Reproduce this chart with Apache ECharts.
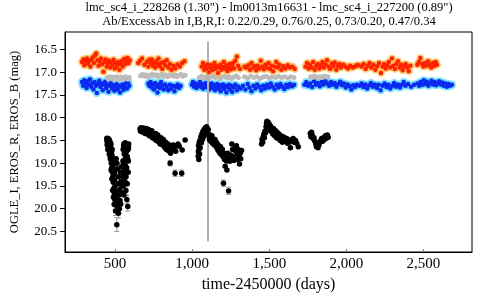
<!DOCTYPE html>
<html><head><meta charset="utf-8">
<script src="https://cdn.jsdelivr.net/npm/echarts@6/dist/echarts.min.js"></script>
<style>html,body{margin:0;padding:0;background:#fff}#c{width:480px;height:300px}</style>
</head><body><div id="c"></div>
<script>
const titleLines = ['lmc_sc4_i_228268 (1.30") - lm0013m16631 - lmc_sc4_i_227200 (0.89")', 'Ab/ExcessAb in I,B,R,I: 0.22/0.29, 0.76/0.25, 0.73/0.20, 0.47/0.34'];
const xName = 'time-2450000 (days)';
const yName = 'OGLE_I, EROS_R, EROS_B (mag)';
const xTicks = [500, 1000, 1500, 2000, 2500];
const yTicks = [16.5, 17.0, 17.5, 18.0, 18.5, 19.0, 19.5, 20.0, 20.5];
const markerTime = 1101;

const redPts = [
[285,16.78],[295,16.72],[300,16.85],[310,16.76],[318,16.70],[325,16.82],[333,16.75],[340,16.88],[348,16.73],[355,16.68],[362,16.80],[370,16.63],[378,16.59],[385,16.74],[392,16.86],[400,16.77],[408,16.70],[415,16.83],[424,16.99],[430,16.78],[438,16.72],[445,16.88],[452,16.81],[460,16.75],[468,16.90],[475,16.79],[482,16.84],[490,16.73],[497,16.92],[505,16.80],[512,16.86],[520,16.78],[528,16.95],[535,16.83],[542,16.76],[550,16.88],[558,16.71],[565,16.82],[572,16.78],[580,16.69],[588,16.80],[595,16.74],
[650,16.80],[662,16.75],[675,16.70],[690,16.84],[705,16.78],[715,16.88],[722,16.73],[730,16.80],[738,16.72],[745,16.86],[752,16.79],[760,16.90],[768,16.76],[775,16.83],[782,16.70],[790,16.87],[798,16.80],[806,16.93],[815,16.78],[825,16.85],[835,16.74],[845,16.90],[855,16.82],[865,16.95],[878,16.86],[890,16.92],[905,16.83],[920,16.88],[935,16.80],[950,16.76],
[1062,16.88],[1070,16.80],[1078,16.95],[1085,16.86],[1092,16.92],[1100,16.83],[1108,17.00],[1115,16.90],[1122,16.85],[1130,16.96],[1138,16.88],[1145,16.80],[1152,16.93],[1160,16.87],[1168,17.02],[1175,16.90],[1182,16.84],[1190,16.95],[1198,16.88],[1205,16.78],[1212,16.92],[1220,16.85],[1228,16.98],[1235,16.90],[1242,16.82],[1250,16.94],[1258,16.87],[1265,16.80],[1272,16.92],[1280,16.75],[1290,16.66],[1298,16.86],[1310,16.93],[1340,16.88],[1350,16.90],[1365,16.85],[1375,16.95],[1385,16.80],[1395,16.90],[1405,16.87],[1415,16.96],[1425,16.86],[1435,16.92],[1445,16.75],[1455,16.88],[1465,16.94],[1475,16.84],[1485,16.90],[1495,16.80],[1505,16.93],[1515,16.86],[1525,16.98],[1535,16.88],[1545,16.78],[1555,16.90],[1565,16.84],[1578,16.95],[1590,16.87],[1605,16.92],[1620,16.85],[1635,16.90],[1650,16.88],[1665,16.93],
[1735,16.88],[1745,16.80],[1755,16.92],[1765,16.84],[1775,16.90],[1785,16.78],[1795,16.95],[1805,16.86],[1815,16.82],[1825,16.92],[1835,16.85],[1845,16.78],[1855,16.90],[1865,16.83],[1875,16.74],[1885,16.88],[1895,16.93],[1905,16.81],[1915,16.87],[1925,16.79],[1935,16.95],[1945,16.86],[1955,16.82],[1965,16.90],[1980,16.84],[1995,16.88],[2010,16.92],[2025,16.86],[2040,16.90],[2055,16.88],[2068,16.85],[2078,16.85],
[2100,16.88],[2112,16.82],[2125,16.93],[2138,16.86],[2150,16.80],[2162,16.90],[2175,16.84],[2188,16.95],[2200,16.87],[2212,16.80],[2225,17.02],[2235,16.88],[2245,16.82],[2255,16.92],[2265,16.85],[2275,16.78],[2285,16.90],[2296,16.70],[2305,16.86],[2315,16.93],[2325,16.82],[2335,16.76],[2345,16.90],[2355,16.84],[2365,16.96],[2375,16.88],[2385,16.82],[2395,16.90],[2405,16.98],[2415,16.86],
[2460,16.84],[2470,16.78],[2480,16.69],[2490,16.82],[2500,16.88],[2510,16.80],[2520,16.86],[2530,16.76],[2540,16.84],[2550,16.90],[2560,16.80],[2570,16.86],[2580,16.78],[2588,16.84]
];

const bluePts = [
[285,17.22],[292,17.30],[300,17.18],[308,17.26],[315,17.35],[322,17.20],[330,17.28],[337,17.16],[345,17.32],[352,17.24],[360,17.38],[367,17.22],[375,17.30],[382,17.46],[390,17.26],[397,17.19],[405,17.33],[412,17.25],[420,17.40],[427,17.28],[435,17.21],[442,17.35],[450,17.27],[457,17.43],[465,17.30],[472,17.24],[480,17.36],[487,17.29],[495,17.41],[502,17.32],[510,17.26],[517,17.38],[525,17.30],[532,17.45],[540,17.33],[547,17.27],[555,17.39],[562,17.31],[570,17.24],[577,17.36],[585,17.22],[592,17.30],
[715,17.25],[722,17.30],[730,17.22],[738,17.34],[745,17.27],[752,17.38],[760,17.24],[768,17.32],[775,17.45],[782,17.28],[790,17.35],[798,17.22],[806,17.30],[815,17.38],[825,17.27],[835,17.33],[845,17.40],[855,17.28],[865,17.36],[875,17.30],[885,17.42],[895,17.33],[905,17.27],[915,17.35],[925,17.30],
[998,17.28],[1005,17.22],[1012,17.32],[1020,17.25],[1028,17.35],[1035,17.27],[1042,17.30],[1050,17.22],[1058,17.33],[1065,17.26],[1072,17.36],[1080,17.28],[1088,17.24],[1095,17.33],[1102,17.27],[1110,17.38],[1118,17.30],[1125,17.25],[1132,17.35],[1140,17.28],[1148,17.40],[1155,17.31],[1162,17.26],[1170,17.36],[1178,17.29],[1185,17.42],[1192,17.32],[1200,17.27],[1208,17.37],[1215,17.30],[1222,17.45],[1230,17.33],[1238,17.28],[1245,17.38],[1252,17.30],[1260,17.44],[1270,17.34],[1280,17.28],[1290,17.40],[1300,17.32],[1315,17.36],[1330,17.30],[1345,17.38],[1360,17.26],[1372,17.34],[1385,17.42],[1398,17.30],[1410,17.36],[1422,17.27],[1435,17.33],[1448,17.40],[1460,17.30],[1472,17.36],[1485,17.28],[1498,17.34],[1510,17.25],[1522,17.32],[1535,17.38],[1548,17.28],[1560,17.34],[1572,17.26],[1585,17.32],[1598,17.37],[1610,17.28],[1622,17.33],[1635,17.26],[1648,17.31],[1662,17.28],
[1728,17.28],[1740,17.22],[1752,17.30],[1765,17.25],[1778,17.33],[1790,17.20],[1802,17.28],[1815,17.24],[1828,17.31],[1840,17.22],[1852,17.27],[1864,17.19],[1876,17.25],[1888,17.30],[1900,17.22],[1912,17.28],[1924,17.24],[1936,17.32],[1948,17.26],[1960,17.21],[1972,17.29],[1984,17.25],[1996,17.34],[2008,17.27],[2020,17.31],[2032,17.38],[2044,17.29],[2056,17.33],[2068,17.28],
[2085,17.30],[2098,17.25],[2110,17.33],[2122,17.27],[2135,17.36],[2148,17.29],[2160,17.24],[2172,17.32],[2185,17.27],[2198,17.35],[2210,17.28],[2222,17.40],[2235,17.30],[2248,17.25],[2260,17.33],[2272,17.28],[2285,17.36],[2298,17.30],[2310,17.24],[2322,17.32],[2335,17.27],[2348,17.34],[2360,17.28],[2372,17.22],[2384,17.30],[2400,17.26],[2420,17.32],[2440,17.28],
[2462,17.25],[2472,17.30],[2482,17.22],[2492,17.28],[2502,17.18],[2512,17.26],[2522,17.21],[2532,17.30],[2542,17.24],[2552,17.19],[2562,17.27],[2572,17.22],[2582,17.29],[2592,17.24],[2602,17.20],[2612,17.27],[2622,17.23],[2632,17.30],[2642,17.25],[2652,17.32],[2662,17.26],[2672,17.30],[2685,17.28]
];

const grayPts = [
[448,17.12],[456,17.15],[464,17.10],[472,17.14],[480,17.11],[488,17.16],[496,17.12],[504,17.15],[512,17.10],[520,17.13],[528,17.16],[536,17.11],[544,17.14],[552,17.12],[560,17.15],[568,17.10],[576,17.13],[584,17.16],[592,17.12],
[665,17.08],[678,17.05],[690,17.09],[702,17.06],[715,17.10],[728,17.07],[740,17.04],[752,17.08],[765,17.06],[778,17.10],[790,17.07],[802,17.05],[815,17.09],[828,17.06],[840,17.10],[852,17.07],[865,17.05],[878,17.09],[890,17.06],[902,17.10],[915,17.07],[928,17.05],[940,17.09],[955,17.07],
[1045,17.12],[1060,17.09],[1075,17.13],[1090,17.10],[1105,17.14],[1120,17.11],[1135,17.08],[1150,17.12],[1165,17.10],[1180,17.14],[1195,17.11],[1210,17.09],[1225,17.13],[1240,17.10],[1255,17.14],[1270,17.11],[1285,17.08],[1300,17.12],[1340,17.10],[1360,17.13],[1380,17.09],[1400,17.12],[1420,17.10],[1440,17.14],[1460,17.11],[1480,17.09],[1500,17.13],[1520,17.10],[1540,17.12],[1560,17.09],[1580,17.12],[1600,17.10],[1620,17.13],[1640,17.10],[1660,17.12],
[1768,17.10],[1780,17.12],[1792,17.09],[1805,17.11],[1818,17.13],[1830,17.10],[1842,17.12],[1855,17.09],[1868,17.11],[1880,17.10]
];

// [time, mag, optional error]
const blackPts = [
[446,18.47],[447,18.45],[448,18.52],[449,18.60],[450,18.58],[451,18.48],[452,18.50],[453,18.70],[454,18.62],[455,18.46],[456,18.55],[457,18.64],[458,18.68],[459,18.52],[460,18.48],[461,18.72],[462,18.80],[463,18.60],[464,18.50],[465,18.78],[466,18.53],[467,18.70],[468,18.85],[469,18.90],[470,18.66],[471,18.62],[472,18.92],[473,18.58],[474,19.15],[475,19.00],[476,18.82],[477,18.75],[478,19.10],[479,19.35],[480,18.83],[481,18.70],[482,19.20],[483,18.95],[484,19.60],[485,19.30],[486,18.90],[487,19.05],[488,19.42],[489,19.75],[490,19.15],[491,19.00],[492,19.55],[493,19.25],[494,19.90],[495,19.68],[496,19.20],[497,19.38],[498,19.80,0.08],[500,19.50],[501,19.92,0.09],[503,20.05,0.1],
[505,19.62],[507,18.90],[509,19.75],[511,20.35,0.15],[512,19.00],[514,19.85,0.09],[516,19.12],[518,19.95],[520,19.30],[522,20.10,0.1],[524,19.45],[526,19.70],[528,20.00,0.1],[530,19.58],[532,19.82],[534,19.20],[536,19.90],[538,19.40],[540,19.65],[542,19.08],[544,19.50],
[550,19.30],[551,18.95],[552,18.70],[553,19.50],[554,19.00],[555,18.62],[556,18.58],[557,19.70],[558,19.15],[559,18.80],[560,18.62],[561,19.25],[562,18.80],[563,18.66],[564,19.40],[565,18.90],[566,18.55],[567,19.05],[568,18.68],[569,18.60],[570,19.60,0.08],[571,19.30],[572,18.75],[573,18.64],[574,18.58],[575,19.10],[576,19.80,0.09],[577,18.72],[578,18.85],[579,19.45],[580,18.60],[581,18.90],[582,19.95,0.1],[583,18.62],[584,18.70],[585,19.20],[586,18.95],[587,18.66],[588,18.58],
[662,18.25],[665,18.30],[668,18.22],[672,18.28],[675,18.24],[680,18.32],[684,18.23],[690,18.29],[694,18.35],[698,18.27],[703,18.24],[708,18.36],[712,18.30],[718,18.26],[722,18.40],[728,18.33],[733,18.38],[738,18.29],[742,18.44],[747,18.36],[752,18.41],[757,18.47],[762,18.35],[767,18.50],[772,18.42],[777,18.38],[782,18.53],[787,18.46],[792,18.58],[797,18.44],[802,18.52],[808,18.60],[813,18.48],[818,18.56],[823,18.66],[828,18.54],[833,18.70],[838,18.62],[843,18.58],[848,18.73],[853,18.65],[857,19.00,0.06],[860,18.78],[865,18.62],[870,18.70],[876,18.60],[882,18.66],[889,19.22,0.07],[893,18.74],[900,18.62],[908,18.58],[916,18.63],[932,19.22,0.07],[935,18.71],[954,18.49],
[1039,18.85],[1040,18.75],[1041,18.62],[1043,18.92],[1044,18.70],[1045,18.55],[1048,18.80],[1050,18.50],[1052,18.66],[1056,18.42],[1060,18.55],[1063,18.36],[1066,18.48],[1070,18.30],[1074,18.42],[1078,18.26],[1082,18.36],[1086,18.22],[1090,18.30],[1093,18.20],[1097,18.24],[1100,18.32],[1104,18.26],[1108,18.40],[1112,18.48],[1116,18.38],[1120,18.52],[1124,18.44],[1128,18.40],[1132,18.56],[1136,18.47],[1140,18.52],[1144,18.60],[1148,18.48],[1152,18.62],[1156,18.54],[1160,18.66],[1164,18.58],[1168,18.72],[1172,18.62],[1176,18.68],[1180,18.78],[1184,18.64],[1188,18.74],[1192,18.82],[1196,18.70],[1200,18.86],[1203,19.44,0.07],[1206,18.78],[1210,18.92],[1214,19.07],[1218,18.84],[1222,18.95],[1225,19.15],[1230,18.78],[1236,19.61,0.08],[1238,18.88],[1244,18.96],[1250,18.82],[1257,18.58],[1262,18.70],[1266,18.86],[1270,18.94],[1279,18.66],[1283,18.74],[1287,18.62],[1291,18.80],[1295,18.92],[1299,18.70],[1303,18.85],[1307,19.02],[1311,18.78],[1315,18.90],[1320,18.72],
[1450,18.58],[1453,18.48],[1457,18.54],[1461,18.42],[1465,18.36],[1468,18.44],[1472,18.30],[1476,18.34],[1479,18.20],[1482,18.12],[1485,18.08],[1488,18.16],[1492,18.10],[1495,18.22],[1499,18.14],[1503,18.26],[1507,18.18],[1511,18.30],[1515,18.22],[1519,18.28],[1523,18.36],[1527,18.24],[1531,18.32],[1535,18.40],[1539,18.28],[1543,18.36],[1547,18.44],[1551,18.32],[1555,18.40],[1559,18.46],[1563,18.36],[1567,18.44],[1571,18.50],[1575,18.40],[1580,18.46],[1585,18.54],[1590,18.42],[1595,18.50],[1600,18.44],[1606,18.52],[1612,18.46],[1618,18.56],[1624,18.48],[1630,18.54],[1637,18.66],[1645,18.50],[1655,18.46],[1662,18.54],[1670,18.50],[1678,18.56],[1688,18.64],
[1766,18.35],[1770,18.42],[1774,18.32],[1778,18.38],[1784,18.46],[1790,18.44],[1796,18.52],[1802,18.58],[1806,18.64],[1810,18.56],[1816,18.66],[1822,18.60],[1828,18.54],[1834,18.50],[1840,18.46],[1846,18.52],[1852,18.44],[1858,18.48],[1864,18.40],[1870,18.45],[1876,18.38],[1882,18.43]
];

const chart = echarts.init(document.getElementById('c'), null, {renderer: 'canvas'});
const serif = '"Liberation Serif", "Times New Roman", serif';
const errPts = blackPts.filter(p => p.length > 2);

chart.setOption({
  animation: false,
  backgroundColor: '#fff',
  graphic: [{
    type: 'text', x: 269, y: 1,
    style: {text: titleLines.join('\n'), fontFamily: serif, fontSize: 12.5, lineHeight: 14, textAlign: 'center', fill: '#000'}
  }],
  grid: {left: 65, right: 8, top: 32, bottom: 48, show: true, borderColor: '#000', borderWidth: 1, backgroundColor: 'transparent'},
  xAxis: {
    type: 'value', min: 175, max: 2815,
    name: xName, nameLocation: 'middle', nameGap: 25,
    nameTextStyle: {fontFamily: serif, fontSize: 16, color: '#000'},
    axisLine: {show: true, lineStyle: {color: '#000'}},
    axisTick: {show: true, inside: true, length: 3, customValues: xTicks, lineStyle: {color: '#888'}},
    axisLabel: {customValues: xTicks, fontFamily: serif, fontSize: 15, color: '#000', margin: 5,
      formatter: v => v.toLocaleString('en-US')},
    splitLine: {show: false}
  },
  yAxis: {
    type: 'value', inverse: true, min: 16.12, max: 20.95,
    name: yName, nameLocation: 'middle', nameGap: 44, nameRotate: 90,
    nameTextStyle: {fontFamily: serif, fontSize: 12.5, color: '#000'},
    axisLine: {show: true, lineStyle: {color: '#000'}},
    axisTick: {show: true, inside: false, length: 5, customValues: yTicks, lineStyle: {color: '#000'}},
    axisLabel: {customValues: yTicks, fontFamily: serif, fontSize: 13, color: '#000', margin: 8,
      formatter: v => v.toFixed(1)},
    splitLine: {show: false}
  },
  series: [
    {type: 'scatter', data: bluePts, symbol: 'circle', symbolSize: 8, itemStyle: {color: 'rgba(90,215,255,0.75)', opacity: 1}, silent: true, z: 1},
    {type: 'scatter', data: bluePts, symbol: 'circle', symbolSize: 4.5, itemStyle: {color: '#0c28f0', opacity: 1}, silent: true, z: 2},
    {type: 'scatter', data: grayPts, symbol: 'circle', symbolSize: 5, itemStyle: {color: '#bcbcbc', opacity: 1}, silent: true, z: 3},
    {type: 'scatter', data: redPts, symbol: 'circle', symbolSize: 7.5, itemStyle: {color: 'rgba(255,175,60,0.7)', opacity: 1}, silent: true, z: 4},
    {type: 'scatter', data: redPts, symbol: 'circle', symbolSize: 4.4, itemStyle: {color: '#ff2000', opacity: 1}, silent: true, z: 5},
    {type: 'custom', data: errPts, silent: true, z: 6,
      renderItem: (params, api) => {
        const t = api.value(0), m = api.value(1), e = api.value(2);
        const a = api.coord([t, m - e]), b = api.coord([t, m + e]);
        const st = {stroke: '#999', lineWidth: 1};
        return {type: 'group', children: [
          {type: 'line', shape: {x1: a[0], y1: a[1], x2: b[0], y2: b[1]}, style: st},
          {type: 'line', shape: {x1: a[0]-2.5, y1: a[1], x2: a[0]+2.5, y2: a[1]}, style: st},
          {type: 'line', shape: {x1: b[0]-2.5, y1: b[1], x2: b[0]+2.5, y2: b[1]}, style: st}
        ]};
      }},
    {type: 'scatter', data: blackPts.map(p => [p[0], p[1]]), symbol: 'circle', symbolSize: 5.5, itemStyle: {color: '#000', opacity: 1}, silent: true, z: 7,
      markLine: {silent: true, symbol: 'none', label: {show: false}, animation: false,
        lineStyle: {color: '#b0b0b0', width: 2, type: 'solid'},
        data: [[{coord: [markerTime, 16.33]}, {coord: [markerTime, 20.72]}]]}}
  ]
});
</script></body></html>
